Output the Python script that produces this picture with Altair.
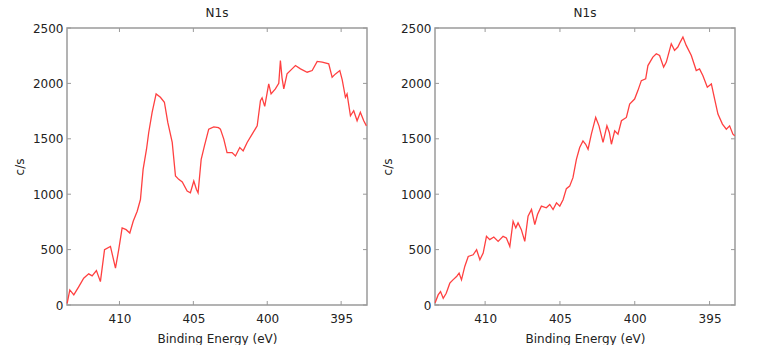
import altair as alt
import pandas as pd

# ---- data ----
left_energy = [413.54, 413.36, 413.09, 412.75, 412.42, 412.08, 411.85, 411.56, 411.29, 411.01,
               410.61, 410.27, 410.05, 409.82, 409.55, 409.30, 409.07, 408.80, 408.58, 408.40,
               408.17, 408.02, 407.79, 407.52, 407.23, 406.96, 406.73, 406.43, 406.21, 405.99,
               405.75, 405.42, 405.20, 404.97, 404.79, 404.68, 404.47, 404.25, 403.96, 403.62,
               403.30, 403.17, 402.94, 402.72, 402.38, 402.15, 401.86, 401.63, 401.36, 401.02,
               400.68, 400.46, 400.35, 400.17, 399.90, 399.74, 399.45, 399.22, 399.11, 399.00,
               398.88, 398.66, 398.32, 398.09, 397.75, 397.30, 396.96, 396.62, 396.28, 395.84,
               395.61, 395.38, 395.09, 394.93, 394.71, 394.60, 394.37, 394.15, 393.92, 393.70,
               393.47, 393.29]
left_counts = [15, 136, 91, 166, 242, 281, 263, 311, 211, 499,
               529, 333, 499, 696, 680, 650, 756, 846, 952, 1224,
               1406, 1557, 1739, 1905, 1875, 1830, 1648, 1467, 1164, 1134,
               1110, 1028, 1013, 1119, 1043, 1013, 1315, 1436, 1587, 1608,
               1600, 1587, 1497, 1376, 1376, 1345, 1421, 1391, 1467, 1542,
               1617, 1844, 1870, 1793, 1995, 1905, 1950, 2000, 2207, 2050,
               1950, 2086, 2131, 2161, 2131, 2101, 2116, 2198, 2192, 2177,
               2056, 2086, 2116, 2035, 1875, 1905, 1708, 1753, 1663, 1739,
               1663, 1617]

right_energy = [413.34, 413.14, 412.98, 412.80, 412.60, 412.36, 412.15, 411.91, 411.74, 411.58,
                411.36, 411.13, 410.80, 410.57, 410.35, 410.13, 409.91, 409.69, 409.42, 409.13,
                408.80, 408.58, 408.35, 408.13, 407.95, 407.80, 407.58, 407.35, 407.13, 406.90,
                406.68, 406.50, 406.24, 405.91, 405.68, 405.46, 405.23, 405.01, 404.79, 404.57,
                404.35, 404.13, 403.90, 403.68, 403.46, 403.28, 403.12, 402.90, 402.61, 402.39,
                402.12, 401.86, 401.70, 401.56, 401.34, 401.12, 400.89, 400.56, 400.34, 400.01,
                399.79, 399.56, 399.27, 399.12, 398.79, 398.56, 398.34, 398.07, 397.89, 397.56,
                397.34, 397.12, 396.96, 396.78, 396.56, 396.22, 395.89, 395.67, 395.45, 395.15,
                394.88, 394.66, 394.44, 394.14, 393.88, 393.66, 393.44, 393.32]
right_counts = [20, 91, 121, 61, 106, 197, 227, 257, 288, 227,
                348, 438, 453, 499, 408, 469, 620, 590, 614, 574,
                620, 605, 529, 756, 696, 741, 680, 574, 801, 862,
                726, 816, 892, 877, 907, 862, 922, 892, 950, 1050,
                1073, 1149, 1315, 1421, 1481, 1451, 1406, 1542, 1693, 1617,
                1467, 1617, 1557, 1451, 1572, 1542, 1663, 1693, 1814, 1859,
                1935, 2025, 2041, 2161, 2237, 2268, 2252, 2147, 2192, 2358,
                2298, 2328, 2373, 2419, 2343, 2252, 2116, 2131, 2071, 1965,
                1995, 1859, 1723, 1633, 1587, 1617, 1542, 1527]

x_ticks = [410, 405, 400, 395]
y_ticks = [0, 500, 1000, 1500, 2000, 2500]

panel_title = "N1s"
x_title = "Binding Energy (eV)"
y_title = "c/s"

W, H = 300, 277
FRAME = "#9a9a9a"
TEXT = "#222222"
FONT = "DejaVu Sans"
FS = 12


def make_panel(energy, counts, x_domain):
    df = pd.DataFrame({"energy": energy, "counts": counts})
    xs = alt.Scale(domain=x_domain, reverse=True, nice=False, zero=False)
    ys = alt.Scale(domain=[0, 2500], nice=False)
    xa = alt.Axis(values=x_ticks, format="d", ticks=False, domain=False,
                  grid=False, labelPadding=8, titlePadding=9)
    ya = alt.Axis(values=y_ticks, format="d", ticks=False, domain=False,
                  grid=False, labelPadding=4, titlePadding=6)

    def X(f):
        return alt.X(f, scale=xs, title=x_title, axis=xa)

    def Y(f):
        return alt.Y(f, scale=ys, title=y_title, axis=ya)

    line = alt.Chart(df).mark_line(color="#ff4040", strokeWidth=1.3).encode(
        x=X("energy:Q"), y=Y("counts:Q"), order="energy:Q",
    )
    xt = pd.DataFrame({"t": x_ticks})
    yt = pd.DataFrame({"t": y_ticks})
    xb = alt.Chart(xt).mark_rule(color=FRAME, strokeWidth=1).encode(
        x=X("t:Q"), y=alt.value(H), y2=alt.value(H - 4))
    xtp = alt.Chart(xt).mark_rule(color=FRAME, strokeWidth=1).encode(
        x=X("t:Q"), y=alt.value(0), y2=alt.value(4))
    yl = alt.Chart(yt).mark_rule(color=FRAME, strokeWidth=1).encode(
        y=Y("t:Q"), x=alt.value(0), x2=alt.value(4))
    yr = alt.Chart(yt).mark_rule(color=FRAME, strokeWidth=1).encode(
        y=Y("t:Q"), x=alt.value(W - 4), x2=alt.value(W))
    return alt.layer(line, xb, xtp, yl, yr).properties(
        width=W, height=H,
        title=alt.TitleParams(panel_title, fontSize=FS, font=FONT, color=TEXT,
                              fontWeight="normal", offset=2),
    )


left = make_panel(left_energy, left_counts, [393.25, 413.55])
right = make_panel(right_energy, right_counts, [393.3, 413.35])

chart = alt.hconcat(left, right, spacing=10).properties(
    padding={"left": 12, "top": 6, "right": 0, "bottom": 0}
).configure_view(
    stroke=FRAME, strokeWidth=1.5
).configure_axis(
    labelFont=FONT, titleFont=FONT, labelFontSize=FS, titleFontSize=FS,
    labelColor=TEXT, titleColor=TEXT, titleFontWeight="normal",
)

chart.save("out.html", embed_options={"renderer": "svg", "actions": False})
